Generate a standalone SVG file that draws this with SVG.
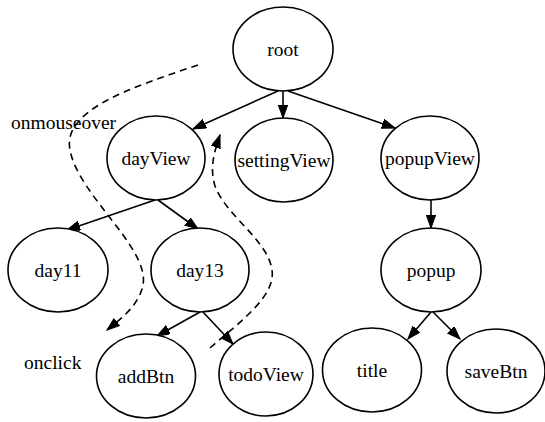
<svg xmlns="http://www.w3.org/2000/svg" width="545" height="422" viewBox="0 0 545 422" font-family="'Liberation Serif', 'Times New Roman', Times, serif" font-size="19.5">
  <style>
    .node ellipse { fill: #ffffff; stroke: #000000; stroke-width: 1.6; }
    .node text { text-anchor: middle; fill: #000000; }
    .edge { fill: none; stroke: #000000; stroke-width: 1.6; marker-end: url(#arrow); }
    .flow { fill: none; stroke: #000000; stroke-width: 1.6; stroke-dasharray: 7 5; marker-end: url(#arrow); }
  </style>
  <defs>
    <marker id="arrow" markerUnits="userSpaceOnUse" markerWidth="14" markerHeight="11" refX="13" refY="4.7" orient="auto">
      <path d="M0,0 L13,4.7 L0,9.4 Z" fill="#000000" stroke="#000000" stroke-width="1" stroke-dasharray="none"/>
    </marker>
  </defs>

  <rect width="545" height="422" fill="#ffffff"/>

  <!-- tree edges and event flows -->
  <g id="connectors">
    <line class="edge" x1="278" y1="91" x2="193" y2="129"/>
    <line class="edge" x1="283" y1="91" x2="283" y2="118"/>
    <line class="edge" x1="288" y1="91" x2="395" y2="128"/>
    <line class="edge" x1="155" y1="200" x2="67" y2="230"/>
    <line class="edge" x1="158" y1="200" x2="198" y2="229"/>
    <line class="edge" x1="200" y1="312" x2="157" y2="336"/>
    <line class="edge" x1="203" y1="312" x2="233" y2="344"/>
    <line class="edge" x1="431" y1="200" x2="431" y2="228"/>
    <line class="edge" x1="431" y1="312" x2="408" y2="339"/>
    <line class="edge" x1="433" y1="312" x2="460" y2="339"/>

    <!-- capture path (onmouseover) -->
    <path class="flow" d="M198,65 C130,88 62,110 70,150 C78,195 150,248 143,285 C139,305 122,318 107,330"/>
    <!-- bubble path (onclick) -->
    <path class="flow" d="M210,348 C240,322 276,296 272,270 C268,240 226,216 215,186 C210,170 213,155 220,135"/>
  </g>

  <g id="root" class="node"><ellipse cx="283" cy="49" rx="50" ry="42"/><text x="283" y="56">root</text></g>
  <g id="dayView" class="node"><ellipse cx="156" cy="158" rx="49" ry="42"/><text x="156" y="165">dayView</text></g>
  <g id="settingView" class="node"><ellipse cx="284" cy="160" rx="49" ry="42"/><text x="284" y="167">settingView</text></g>
  <g id="popupView" class="node"><ellipse cx="430" cy="158" rx="49" ry="42"/><text x="430" y="165">popupView</text></g>
  <g id="day11" class="node"><ellipse cx="58" cy="270" rx="50" ry="42"/><text x="58" y="277">day11</text></g>
  <g id="day13" class="node"><ellipse cx="200" cy="270" rx="49" ry="42"/><text x="200" y="277">day13</text></g>
  <g id="popup" class="node"><ellipse cx="431" cy="270" rx="50" ry="42"/><text x="431" y="277">popup</text></g>
  <g id="addBtn" class="node"><ellipse cx="146" cy="376" rx="49.5" ry="42"/><text x="146" y="383">addBtn</text></g>
  <g id="todoView" class="node"><ellipse cx="266" cy="374" rx="47" ry="42"/><text x="266" y="381">todoView</text></g>
  <g id="title" class="node"><ellipse cx="372" cy="370" rx="49.5" ry="42"/><text x="372" y="377">title</text></g>
  <g id="saveBtn" class="node"><ellipse cx="496" cy="371" rx="49" ry="42"/><text x="496" y="378">saveBtn</text></g>

  <g id="labels" fill="#000000">
    <text x="11" y="129">onmouseover</text>
    <text x="24" y="369">onclick</text>
  </g>
</svg>
